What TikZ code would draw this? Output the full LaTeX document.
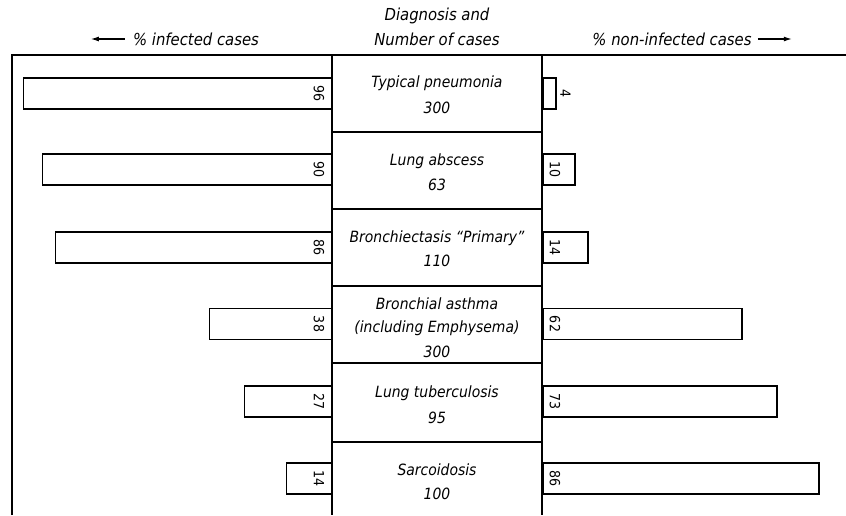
\documentclass[tikz,border=0pt]{standalone}
\usepackage{fontspec}
\setmainfont{DejaVu Sans Condensed}[ItalicFont={DejaVu Sans Condensed Oblique}]
\usetikzlibrary{arrows.meta}
\begin{document}
\begin{tikzpicture}[x=1pt,y=-1pt,
  frame/.style={line width=1.4pt},
  bar/.style={draw, line width=1.5pt, inner sep=0pt, minimum height=31pt},
  lab/.style={font=\fontsize{15.5}{18}\selectfont\itshape, inner sep=0pt},
  hlab/.style={font=\fontsize{16.5}{19}\selectfont\itshape, inner sep=0pt},
  num/.style={font=\fontsize{14}{16}\selectfont, rotate=-90, inner sep=0pt},
  hdarrow/.style={line width=1.1pt, -{Latex[length=8pt,width=5pt]}}]
\useasboundingbox (0,0) rectangle (846,515);
% frame
\coordinate (fbl) at (12,515);
\coordinate (ftl) at (12,55);
\coordinate (ftr) at (846,55);
\draw[frame] (fbl) -- (ftl) -- (ftr);
\coordinate (cl1) at (332,55); \coordinate (cl2) at (332,515);
\coordinate (cr1) at (542,55); \coordinate (cr2) at (542,515);
\draw[frame] (cl1) -- (cl2);
\draw[frame] (cr1) -- (cr2);
\foreach \y [count=\i] in {132,209,286,363,442}{
  \coordinate (sa\i) at (332,\y); \coordinate (sb\i) at (542,\y);
  \draw[frame] (sa\i) -- (sb\i);
}
% header
\node[hlab] (hl) at (196,39) {\% infected cases};
\coordinate (hla) at (hl.west);
\coordinate (hlb) at ([xshift=-42pt]hl.west);
\draw[hdarrow] ([xshift=-8pt]hla) -- (hlb);
\node[hlab] (hc1) at (437,16) {Diagnosis and};
\node[hlab] (hc2) at (437,39) {Number of cases};
\node[hlab] (hr) at (672,39) {\% non-infected cases};
\coordinate (hra) at (hr.east);
\coordinate (hrb) at ([xshift=40pt]hr.east);
\draw[hdarrow] ([xshift=6pt]hra) -- (hrb);
% center labels
\node[lab] (t1a) at (437,83) {Typical pneumonia};
\node[lab] (t1b) at (437,108) {300};
\node[lab] (t2a) at (437,161) {Lung abscess};
\node[lab] (t2b) at (437,185) {63};
\node[lab] (t3a) at (437,238) {Bronchiectasis “Primary”};
\node[lab] (t3b) at (437,261) {110};
\node[lab] (t4a) at (437,304) {Bronchial asthma};
\node[lab] (t4b) at (437,328) {(including Emphysema)};
\node[lab] (t4c) at (437,352) {300};
\node[lab] (t5a) at (437,393) {Lung tuberculosis};
\node[lab] (t5b) at (437,418) {95};
\node[lab] (t6a) at (437,470) {Sarcoidosis};
\node[lab] (t6b) at (437,494) {100};
% left bars
\node[bar, anchor=east, minimum width=308pt] (l1) at (332,93.5) {};
\node[bar, anchor=east, minimum width=289pt] (l2) at (332,169.5) {};
\node[bar, anchor=east, minimum width=276pt] (l3) at (332,247.5) {};
\node[bar, anchor=east, minimum width=122pt] (l4) at (332,324) {};
\node[bar, anchor=east, minimum width=87pt] (l5) at (332,401.5) {};
\node[bar, anchor=east, minimum width=45pt] (l6) at (332,478.5) {};
% right bars
\node[bar, anchor=west, minimum width=13pt] (r1) at (542,93.5) {};
\node[bar, anchor=west, minimum width=32pt] (r2) at (542,169.5) {};
\node[bar, anchor=west, minimum width=45pt] (r3) at (542,247.5) {};
\node[bar, anchor=west, minimum width=199pt] (r4) at (542,324) {};
\node[bar, anchor=west, minimum width=234pt] (r5) at (542,401.5) {};
\node[bar, anchor=west, minimum width=276pt] (r6) at (542,478.5) {};
% numbers
\node[num] (n1l) at ([xshift=-13pt]l1.east) {96};
\node[num] (n2l) at ([xshift=-13pt]l2.east) {90};
\node[num] (n3l) at ([xshift=-13pt]l3.east) {86};
\node[num] (n4l) at ([xshift=-13pt]l4.east) {38};
\node[num] (n5l) at ([xshift=-13pt]l5.east) {27};
\node[num] (n6l) at ([xshift=-13pt]l6.east) {14};
\node[num] (n1r) at ([xshift=9pt]r1.east) {4};
\node[num] (n2r) at ([xshift=13pt]r2.west) {10};
\node[num] (n3r) at ([xshift=13pt]r3.west) {14};
\node[num] (n4r) at ([xshift=13pt]r4.west) {62};
\node[num] (n5r) at ([xshift=13pt]r5.west) {73};
\node[num] (n6r) at ([xshift=13pt]r6.west) {86};
\end{tikzpicture}
\end{document}
